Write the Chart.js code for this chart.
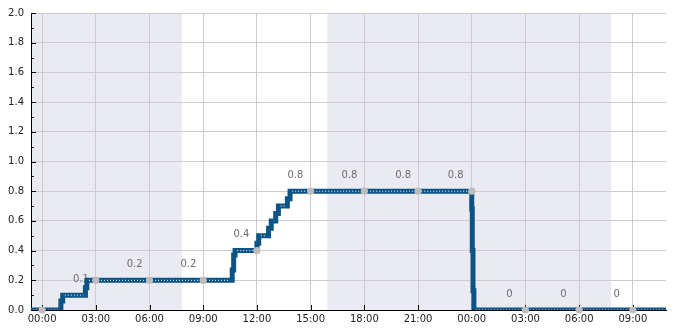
<!DOCTYPE html>
<html>
<head>
<meta charset="utf-8">
<script src="https://cdn.jsdelivr.net/npm/chart.js@4/dist/chart.umd.min.js"></script>
<style>
  html, body { margin: 0; padding: 0; background: #fff; }
  #wrap { width: 685px; height: 330px; }
</style>
</head>
<body>
<div id="wrap"><canvas id="chart"></canvas></div>
<script>
// hours counted from 00:00 of the first day
const stepTimes  = [-0.62, 1.05, 1.15, 2.42, 2.5, 10.62, 10.7, 10.78, 12.0, 12.1, 12.65, 12.8, 13.05, 13.2, 13.7, 13.85, 24.0, 24.03, 24.07, 24.12, 34.9];
const stepValues = [0, 0.06, 0.1, 0.15, 0.2, 0.27, 0.37, 0.4, 0.45, 0.5, 0.55, 0.6, 0.65, 0.7, 0.75, 0.8, 0.68, 0.4, 0.13, 0, 0];

const dotTimes  = [0, 3, 6, 9, 12, 15, 18, 21, 24, 27, 30, 33];
const dotValues = [0, 0.2, 0.2, 0.2, 0.4, 0.8, 0.8, 0.8, 0.8, 0, 0, 0];

const labelTimes  = [2.17, 5.17, 8.17, 11.13, 14.15, 17.17, 20.17, 23.1, 26.1, 29.12, 32.1];
const labelValues = [0.1, 0.2, 0.2, 0.4, 0.8, 0.8, 0.8, 0.8, 0, 0, 0];

const nightBands = [[-1, 7.8], [15.93, 31.78]];

const X_MIN = -0.62, X_MAX = 34.85;
const FONT = 'DejaVu Sans';

// step line points
const stepData = stepTimes.map((t, i) => ({ x: t, y: stepValues[i] }));

// white dotted overlay on the flat parts only
const flatData = [];
for (let i = 0; i < stepTimes.length - 1; i++) {
  if (stepTimes[i + 1] - stepTimes[i] < 0.2) continue;
  flatData.push({ x: stepTimes[i] + 0.12, y: stepValues[i] });
  flatData.push({ x: stepTimes[i + 1] - 0.12, y: stepValues[i] });
  flatData.push({ x: stepTimes[i + 1], y: null });
}

const pad2 = n => (n < 10 ? '0' : '') + n;

const bandPlugin = {
  id: 'bands',
  beforeDraw(chart) {
    const { ctx, chartArea: a, scales: { x } } = chart;
    ctx.save();
    ctx.beginPath();
    ctx.rect(a.left, a.top, a.right - a.left, a.bottom - a.top);
    ctx.clip();
    ctx.fillStyle = '#eaeaf2';
    nightBands.forEach(([s, e]) => {
      const x0 = x.getPixelForValue(s), x1 = x.getPixelForValue(e);
      ctx.fillRect(x0, a.top, x1 - x0, a.bottom - a.top);
    });
    ctx.restore();
  }
};

const tickPlugin = {
  id: 'inTicks',
  beforeDatasetsDraw(chart) {
    const { ctx, chartArea: a, scales: { x, y } } = chart;
    ctx.save();
    ctx.strokeStyle = '#000';
    ctx.lineWidth = 1;
    ctx.beginPath();
    x.ticks.forEach(t => {
      const px = Math.round(x.getPixelForValue(t.value)) + 0.5;
      ctx.moveTo(px, a.bottom);
      ctx.lineTo(px, a.bottom - 5);
    });
    y.ticks.forEach((t, i) => {
      const py = Math.round(y.getPixelForValue(t.value)) + 0.5;
      ctx.moveTo(a.left, py);
      ctx.lineTo(a.left + 5, py);
      if (i < y.ticks.length - 1) {
        const pm = Math.round(y.getPixelForValue((t.value + y.ticks[i + 1].value) / 2)) + 0.5;
        ctx.moveTo(a.left, pm);
        ctx.lineTo(a.left + 3, pm);
      }
    });
    ctx.stroke();

    // value labels (drawn under the line)
    const meta = chart.getDatasetMeta(3);
    ctx.fillStyle = '#6d6d6d';
    ctx.font = '10px "' + FONT + '"';
    ctx.textAlign = 'center';
    ctx.textBaseline = 'middle';
    meta.data.forEach((el, i) => {
      ctx.fillText(String(labelValues[i]), el.x, el.y - 16);
    });
    ctx.restore();
  }
};

new Chart(document.getElementById('chart'), {
  type: 'line',
  data: {
    datasets: [
      {
        label: 'points',
        data: dotTimes.map((t, i) => ({ x: t, y: dotValues[i] })),
        showLine: false,
        pointRadius: 3.6,
        pointBorderWidth: 0,
        pointBackgroundColor: '#bdbdbd',
        clip: false,
        order: 0
      },
      {
        label: 'flat',
        data: flatData,
        borderColor: '#ffffff',
        borderWidth: 1,
        borderDash: [1, 2],
        pointRadius: 0,
        spanGaps: false,
        clip: 0,
        order: 1
      },
      {
        label: 'value',
        data: stepData,
        stepped: true,
        borderColor: '#0b5485',
        borderWidth: 5,
        pointRadius: 0,
        clip: 0,
        order: 2
      },
      {
        label: 'labels',
        data: labelTimes.map((t, i) => ({ x: t, y: labelValues[i] })),
        showLine: false,
        pointRadius: 0,
        order: 3
      }
    ]
  },
  options: {
    responsive: true,
    maintainAspectRatio: false,
    animation: false,
    events: [],
    layout: { padding: { top: 10, right: 19, left: 0, bottom: 0 } },
    plugins: {
      legend: { display: false },
      tooltip: { enabled: false }
    },
    scales: {
      x: {
        type: 'linear',
        min: X_MIN,
        max: X_MAX,
        afterFit: s => { s.height = 20; },
        grid: { color: '#cccccc', drawTicks: false },
        border: { color: '#000000', width: 1 },
        ticks: {
          stepSize: 3,
          includeBounds: false,
          autoSkip: false,
          maxRotation: 0,
          padding: 3,
          color: '#222222',
          font: { family: FONT, size: 10 },
          callback: v => pad2(((v % 24) + 24) % 24) + ':00'
        }
      },
      y: {
        min: 0,
        max: 2,
        afterFit: s => { s.width = 31; },
        grid: { color: '#cccccc', drawTicks: false },
        border: { color: '#000000', width: 1 },
        ticks: {
          stepSize: 0.2,
          padding: 7,
          color: '#222222',
          font: { family: FONT, size: 10 },
          callback: v => v.toFixed(1)
        }
      }
    }
  },
  plugins: [bandPlugin, tickPlugin]
});
</script>
</body>
</html>
